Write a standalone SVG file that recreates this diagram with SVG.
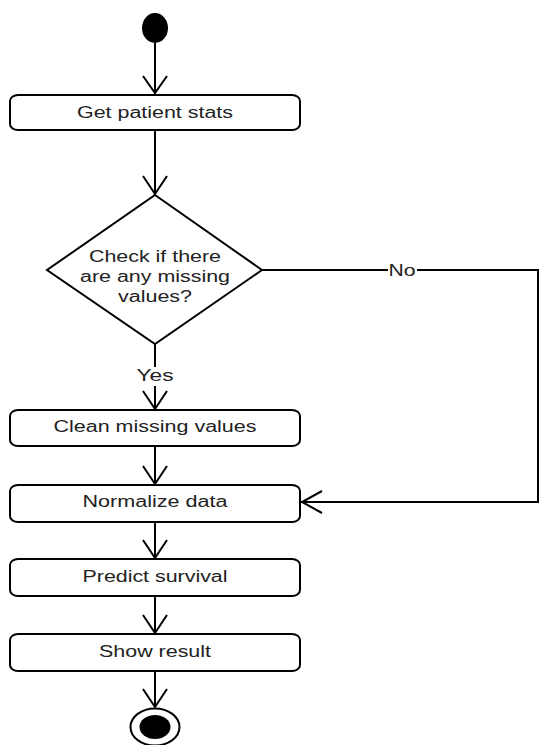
<svg xmlns="http://www.w3.org/2000/svg" width="541" height="745" viewBox="0 0 541 745">
<style>
.box{fill:#fff;stroke:#000;stroke-width:2}
.ln{fill:none;stroke:#000;stroke-width:2}
.t{font-family:"Liberation Sans",Arial,sans-serif;font-size:16px;fill:#222;text-anchor:middle}
</style>
<rect width="541" height="745" fill="#fff"/>
<g id="connectors">
  <path class="ln" d="M155,43 V94 M143,76 L155,93 L167,76"/>
  <path class="ln" d="M155,130 V194 M143,176 L155,194 L167,176"/>
  <path class="ln" d="M155,344 V409 M143,391 L155,409 L167,391"/>
  <path class="ln" d="M155,446 V484 M143,466 L155,484 L167,466"/>
  <path class="ln" d="M155,522 V558 M143,540 L155,558 L167,540"/>
  <path class="ln" d="M155,596 V633 M143,615 L155,633 L167,615"/>
  <path class="ln" d="M155,671 V707 M143,689 L155,707 L167,689"/>
  <path class="ln" d="M262,270 H538 V502 H301 M322,491 L302,502 L322,513"/>
  <rect x="388" y="262" width="29" height="16" fill="#fff"/>
  <text class="t" x="402" y="275.5" textLength="27" lengthAdjust="spacingAndGlyphs">No</text>
  <rect x="136" y="367" width="38" height="19" fill="#fff"/>
  <text class="t" x="155" y="381" textLength="37" lengthAdjust="spacingAndGlyphs">Yes</text>
</g>
<g id="start"><ellipse cx="155" cy="28" rx="13" ry="15" fill="#000"/></g>
<g id="get-stats">
  <rect class="box" x="10" y="95" width="290" height="35" rx="8" ry="6"/>
  <text class="t" x="155" y="117.5" textLength="156" lengthAdjust="spacingAndGlyphs">Get patient stats</text>
</g>
<g id="check-missing">
  <polygon class="box" points="155,195 262,270 155,344 47,270"/>
  <text class="t" x="155" y="261.5" textLength="132" lengthAdjust="spacingAndGlyphs">Check if there</text>
  <text class="t" x="155" y="281.5" textLength="150" lengthAdjust="spacingAndGlyphs">are any missing</text>
  <text class="t" x="155" y="301.5" textLength="74" lengthAdjust="spacingAndGlyphs">values?</text>
</g>
<g id="clean">
  <rect class="box" x="10" y="410" width="290" height="36" rx="8" ry="6"/>
  <text class="t" x="155" y="432" textLength="203" lengthAdjust="spacingAndGlyphs">Clean missing values</text>
</g>
<g id="normalize">
  <rect class="box" x="10" y="485" width="290" height="37" rx="8" ry="6"/>
  <text class="t" x="155" y="507" textLength="145" lengthAdjust="spacingAndGlyphs">Normalize data</text>
</g>
<g id="predict">
  <rect class="box" x="10" y="559" width="290" height="37" rx="8" ry="6"/>
  <text class="t" x="155" y="582" textLength="145" lengthAdjust="spacingAndGlyphs">Predict survival</text>
</g>
<g id="show">
  <rect class="box" x="10" y="634" width="290" height="37" rx="8" ry="6"/>
  <text class="t" x="155" y="657" textLength="112" lengthAdjust="spacingAndGlyphs">Show result</text>
</g>
<g id="end">
  <ellipse cx="155" cy="727" rx="24.5" ry="18.5" fill="#fff" stroke="#000" stroke-width="2"/>
  <ellipse cx="155" cy="727" rx="15.5" ry="12" fill="#000"/>
</g>
</svg>
